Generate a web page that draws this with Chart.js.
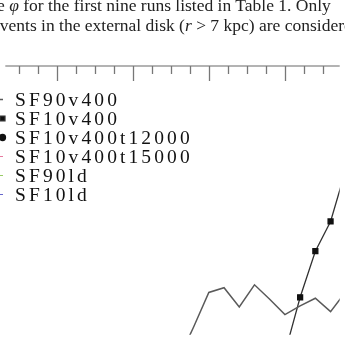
<!DOCTYPE html>
<html>
<head>
<meta charset="utf-8">
<script src="https://cdn.jsdelivr.net/npm/chart.js@4/dist/chart.umd.min.js"></script>
<style>
  html, body { margin: 0; padding: 0; background: #fff; overflow: hidden; }
  #wrap { position: relative; width: 345px; height: 340px; overflow: hidden; }
  #plot { position: absolute; left: 0; top: 0; }
  .cap { position: absolute; white-space: nowrap; font-family: "Liberation Serif", serif; font-size: 17.5px; line-height: 20px; color: #222; }
  .cap i { font-style: italic; }
</style>
</head>
<body>
<div id="wrap">
  <canvas id="plot" width="345" height="340"></canvas>
  <div class="cap" style="left:-3px; top:-5.5px;">e <i>φ</i> for the first nine runs listed in Table 1. Only</div>
  <div class="cap" style="left:-8px; top:14.5px;">events in the external disk (<i>r</i> &gt; 7 kpc) are considered.</div>
</div>
<script>
// phi bins (arbitrary units of the top axis, major tick = 1)
const phi = [2.6, 2.8, 3.0, 3.2, 3.4, 3.6, 3.8, 4.0, 4.2, 4.4, 4.6, 4.8]
const sf90v400 = [-1.3, 0.4, 2.2, 2.45, 1.45, 2.6, 1.85, 1.05, 1.5, 1.9, 1.2, 2.25]
const sf10v400 = [null, null, null, null, null, null, null, -0.95, 1.95, 4.35, 5.9, 8.6]
const runNames = ['SF90v400', 'SF10v400', 'SF10v400t12000', 'SF10v400t15000', 'SF90ld', 'SF10ld']

const toPoints = (vals) => phi.map((p, i) => ({ x: p, y: vals[i] })).filter(d => d.y !== null)

// top axis line with inward ticks, taken from the x scale's own ticks
const topAxis = {
    id: 'topAxis',
    afterDraw(chart) {
        const { ctx, chartArea } = chart
        const x = chart.scales.x
        ctx.save()
        ctx.strokeStyle = '#9a9a9a'
        ctx.lineWidth = 1.6
        ctx.beginPath()
        ctx.moveTo(chartArea.left, chartArea.top)
        ctx.lineTo(chartArea.right, chartArea.top)
        ctx.stroke()
        ctx.strokeStyle = '#777'
        ctx.lineWidth = 1.3
        x.ticks.forEach(t => {
            const px = Math.round(x.getPixelForValue(t.value)) + 0.5
            const major = Math.abs(t.value - Math.round(t.value)) < 1e-6
            ctx.beginPath()
            ctx.moveTo(px, chartArea.top)
            ctx.lineTo(px, chartArea.top + (major ? 15 : 8))
            ctx.stroke()
        })
        ctx.restore()
    }
}

// legend drawn in the upper-left corner of the plot, samples cut at the edge
const cornerLegend = {
    id: 'cornerLegend',
    afterDraw(chart) {
        const ctx = chart.ctx
        ctx.save()
        chart.data.datasets.forEach((ds, i) => {
            const y = 99.5 + i * 19
            ctx.strokeStyle = ds.borderColor
            ctx.lineWidth = ds.borderWidth
            ctx.beginPath()
            ctx.moveTo(-30, y)
            ctx.lineTo(3, y)
            ctx.stroke()
            if (ds.pointRadius > 0) {
                ctx.fillStyle = ds.pointBackgroundColor
                Chart.helpers.drawPoint(ctx, {
                    pointStyle: ds.pointStyle, radius: ds.pointRadius, rotation: 0, borderWidth: 1
                }, 2.5, y)
            }
            ctx.fillStyle = '#111'
            ctx.font = '19.5px "Liberation Serif", serif'
            ctx.letterSpacing = '3.1px'
            ctx.textBaseline = 'middle'
            ctx.fillText(ds.label, 15, y + 1)
            ctx.letterSpacing = '0px'
        })
        ctx.restore()
    }
}

window.onload = () => {
    const canvas = document.querySelector('#plot')

    new Chart(canvas, {
        type: 'line',
        data: {
            datasets: [{
                label: runNames[0],
                data: toPoints(sf90v400),
                borderColor: '#5a5a5a',
                borderWidth: 1.5,
                pointRadius: 0
            }, {
                label: runNames[1],
                data: toPoints(sf10v400),
                borderColor: '#333',
                borderWidth: 1.3,
                pointStyle: 'rect',
                pointRadius: 3.5,
                pointBackgroundColor: '#111',
                pointBorderColor: '#111'
            }, {
                label: runNames[2],
                data: [],
                borderColor: '#111',
                borderWidth: 1.3,
                pointStyle: 'circle',
                pointRadius: 3,
                pointBackgroundColor: '#111'
            }, {
                label: runNames[3],
                data: [],
                borderColor: '#e77aa0',
                borderWidth: 1,
                pointRadius: 0
            }, {
                label: runNames[4],
                data: [],
                borderColor: '#9c6',
                borderWidth: 1,
                pointRadius: 0
            }, {
                label: runNames[5],
                data: [],
                borderColor: '#66c',
                borderWidth: 1,
                pointRadius: 0
            }]
        },
        options: {
            responsive: false,
            animation: false,
            devicePixelRatio: 1,
            layout: { padding: { top: 66, left: 0, right: 0, bottom: 0 } },
            plugins: {
                legend: { display: false },
                tooltip: { enabled: false }
            },
            scales: {
                x: {
                    type: 'linear',
                    display: false,
                    min: 0.325,
                    max: 4.72,
                    ticks: { stepSize: 0.25, maxTicksLimit: 100, includeBounds: false }
                },
                y: {
                    display: false,
                    min: 0,
                    max: 14
                }
            }
        },
        plugins: [topAxis, cornerLegend]
    })
}
</script>
</body>
</html>
